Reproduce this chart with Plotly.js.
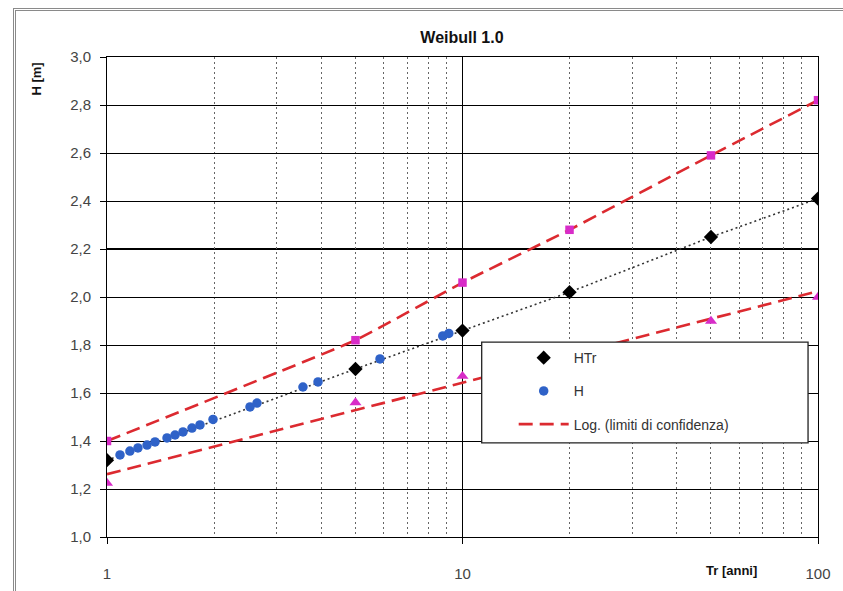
<!DOCTYPE html>
<html>
<head>
<meta charset="utf-8">
<script src="https://cdn.plot.ly/plotly-3.0.1.min.js"></script>
<style>
  html, body { margin: 0; padding: 0; background: #ffffff; }
  #wrap { position: relative; width: 843px; height: 591px; overflow: hidden; }
  #chart { position: absolute; left: 0; top: 0; width: 843px; height: 591px; }
  #frame { position: absolute; left: 13px; top: 8px; width: 840px; height: 600px;
           border-left: 3px double #8a8a8a; border-top: 3px double #8a8a8a; pointer-events: none; }
</style>
</head>
<body>
<div id="wrap">
  <div id="chart"></div>
  <div id="frame"></div>
</div>
<script>
// Return periods (years) for the Weibull quantiles and confidence limits
const trYears = [1, 5, 10, 20, 50, 100];
// Weibull quantile H(Tr)
const hTr = [1.32, 1.70, 1.86, 2.02, 2.25, 2.41];
// Upper / lower confidence limits
const upperLimit = [1.40, 1.82, 2.06, 2.28, 2.59, 2.82];
const lowerLimit = [1.225, 1.56, 1.67, 1.77, 1.90, 2.00];
// Observed data: plotting-position return period and height
const obsTr = [1.088, 1.16, 1.222, 1.296, 1.365, 1.475, 1.554, 1.636, 1.734, 1.826, 1.987, 2.525, 2.642, 3.558, 3.923, 5.86, 8.8, 9.15];
const obsH  = [1.342, 1.358, 1.371, 1.383, 1.396, 1.413, 1.425, 1.438, 1.454, 1.467, 1.49, 1.542, 1.558, 1.625, 1.646, 1.742, 1.838, 1.848];
// Tick labels
const xTickVals = [1, 10, 100];
const xTickText = ['1', '10', '100'];

// Logarithmic trendline (least squares on ln x)
function logFit(xs, ys) {
  const lx = xs.map(Math.log);
  const n = xs.length;
  const mx = lx.reduce((a, b) => a + b, 0) / n;
  const my = ys.reduce((a, b) => a + b, 0) / n;
  let sxy = 0, sxx = 0;
  for (let i = 0; i < n; i++) { sxy += (lx[i] - mx) * (ys[i] - my); sxx += (lx[i] - mx) ** 2; }
  const b = sxy / sxx, a = my - b * mx;
  return xs.map(x => a + b * Math.log(x));
}
const lowerFit = logFit(trYears, lowerLimit);

const FONT = 'Arial, "Liberation Sans", sans-serif';
const RED = '#dc2a30';
const MAG = '#d82cc8';

const traces = [
  { x: trYears, y: upperLimit, mode: 'lines', name: 'Log. (limiti di confidenza)',
    line: { color: RED, width: 2.6, dash: '14px,7px', shape: 'spline', smoothing: 0.3 },
    legendgroup: 'c', legendrank: 3, showlegend: true },
  { x: trYears, y: lowerFit, mode: 'lines', name: 'lower', legendgroup: 'c',
    line: { color: RED, width: 2.6, dash: '14px,7px' }, showlegend: false },
  { x: trYears, y: hTr, mode: 'lines', name: 'HTr line',
    line: { color: '#333', width: 1.6, dash: '2px,3px' }, showlegend: false },
  { x: obsTr, y: obsH, mode: 'markers', name: 'H', legendgroup: 'b', legendrank: 2,
    marker: { symbol: 'circle', size: 9.5, color: '#2f62c8' } },
  { x: trYears, y: hTr, mode: 'markers', name: 'HTr', legendgroup: 'a', legendrank: 1,
    marker: { symbol: 'diamond', size: 11, color: '#000000' } },
  { x: trYears, y: upperLimit, mode: 'markers', name: 'sup', showlegend: false,
    marker: { symbol: 'square', size: 8.5, color: MAG } },
  { x: trYears, y: lowerLimit, mode: 'markers', name: 'inf', showlegend: false,
    marker: { symbol: 'triangle-up', size: 10.5, color: MAG } }
];

const layout = {
  width: 843, height: 591,
  margin: { l: 107, r: 25, t: 57, b: 54 },
  paper_bgcolor: 'rgba(0,0,0,0)',
  plot_bgcolor: '#ffffff',
  separators: ',.',
  font: { family: FONT, size: 14, color: '#333' },
  title: { text: '<b>Weibull 1.0</b>', x: 0.548, xanchor: 'center', y: 0.937, yanchor: 'middle',
           xref: 'container', yref: 'container', font: { family: FONT, size: 16, color: '#111' } },
  xaxis: {
    type: 'log', range: [0, 2],
    tickvals: xTickVals, ticktext: xTickText,
    ticks: 'outside', ticklen: 6, tickcolor: '#000', tickwidth: 1,
    ticklabelstandoff: 17,
    showgrid: true, gridcolor: '#000', gridwidth: 1,
    showline: true, linecolor: '#000', linewidth: 1, mirror: true,
    zeroline: false,
    tickfont: { family: FONT, size: 15, color: '#444' },
    minor: { dtick: 'D1', showgrid: true, gridcolor: '#666', griddash: '2px,3px', gridwidth: 1, ticks: '' }
  },
  yaxis: {
    range: [1.0, 3.0], dtick: 0.2, tick0: 1.0, tickformat: '.1f',
    ticks: 'outside', ticklen: 6, tickcolor: '#000', tickwidth: 1,
    ticklabelstandoff: 6,
    showgrid: true, gridcolor: '#000', gridwidth: 1,
    showline: true, linecolor: '#000', linewidth: 1, mirror: true,
    zeroline: false,
    tickfont: { family: FONT, size: 15, color: '#444' }
  },
  showlegend: true,
  legend: {
    x: 0.572, y: 0.406, xanchor: 'left', yanchor: 'top',
    bgcolor: 'rgba(0,0,0,0)', borderwidth: 0,
    traceorder: 'grouped', tracegroupgap: 12,
    font: { family: FONT, size: 14, color: '#333' },
    itemwidth: 50
  },
  shapes: [
    { type: 'line', xref: 'paper', yref: 'y', x0: 0, x1: 1, y0: 2.2, y1: 2.2,
      line: { color: '#000', width: 2 }, layer: 'below' },
    { type: 'rect', xref: 'paper', yref: 'paper', x0: 0.527, x1: 0.986, y0: 0.196, y1: 0.406,
      fillcolor: '#ffffff', line: { color: '#222', width: 1.3 }, layer: 'above' }
  ],
  annotations: [
    { text: '<b>H [m]</b>', xref: 'paper', yref: 'paper', x: -0.0985, y: 0.955, textangle: -90,
      showarrow: false, xanchor: 'center', yanchor: 'middle', font: { family: FONT, size: 13, color: '#111' } },
    { text: '<b>Tr [anni]</b>', xref: 'paper', yref: 'paper', x: 0.879, y: -0.069,
      showarrow: false, xanchor: 'center', yanchor: 'middle', font: { family: FONT, size: 13, color: '#111' } }
  ]
};

Plotly.newPlot('chart', traces, layout, { displayModeBar: false, staticPlot: true });
</script>
</body>
</html>
